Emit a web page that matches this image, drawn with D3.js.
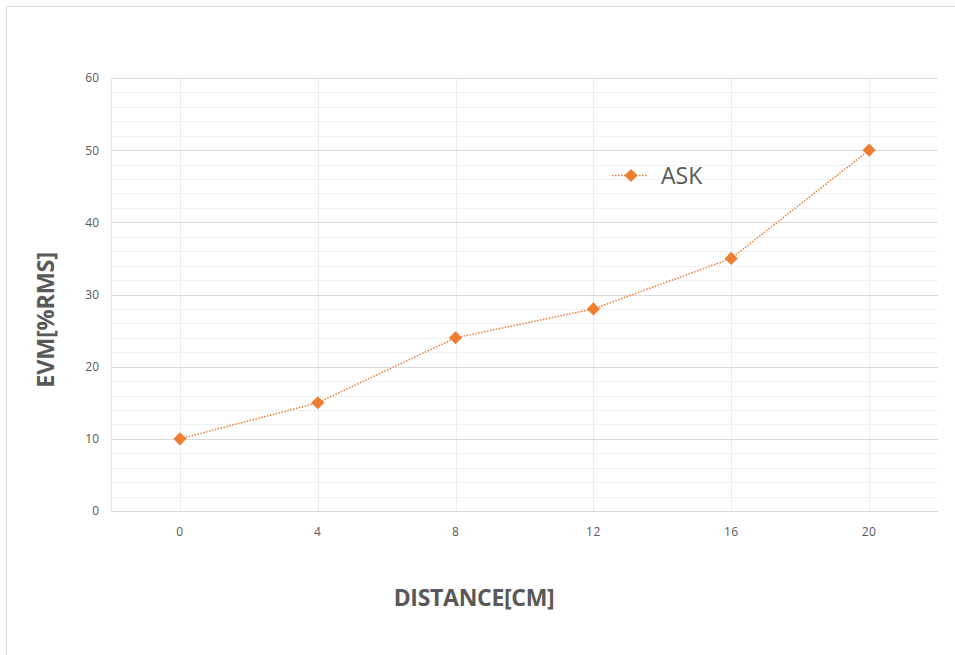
<!DOCTYPE html>
<html><head><meta charset="utf-8">
<script src="https://cdn.jsdelivr.net/npm/d3@7"></script>
<style>body{margin:0;background:#fff}svg{display:block}</style>
</head><body>
<svg id="c" width="955" height="655"></svg>
<script>
const categories = ["0","4","8","12","16","20"];
const askValues = [10, 15, 24, 28, 35, 50];
const yTicks = [0,10,20,30,40,50,60];
const seriesName = "ASK";
const xTitle = "DISTANCE[CM]";
const yTitle = "EVM[%RMS]";

const svg = d3.select("#c");
const W = 955, H = 655;
const m = {l:111, r:938, t:78, b:511};
const color = "#ED7D31";
const font = "'Open Sans', 'Liberation Sans', sans-serif";

// outer border (top/left)
svg.append("path").attr("d", `M6.5,${H} L6.5,6.5 L${W},6.5`).attr("fill","none").attr("stroke","#d9d9d9").attr("stroke-width",1);

const x = d3.scaleBand().domain(categories).range([m.l, m.r]);
const y = d3.scaleLinear().domain([0,60]).range([m.b, m.t]);

// minor gridlines
const minor = d3.range(0, 61, 2).filter(v => v % 10 !== 0);
svg.append("g").selectAll("line").data(minor).join("line")
  .attr("x1", m.l).attr("x2", m.r)
  .attr("y1", d => Math.round(y(d))+0.5).attr("y2", d => Math.round(y(d))+0.5)
  .attr("stroke","#f0f0f0").attr("stroke-width",1);
// vertical gridlines
svg.append("g").selectAll("line").data(categories).join("line")
  .attr("x1", d => Math.round(x(d)+x.bandwidth()/2)+0.5).attr("x2", d => Math.round(x(d)+x.bandwidth()/2)+0.5)
  .attr("y1", m.t).attr("y2", m.b)
  .attr("stroke","#ececec").attr("stroke-width",1);
// major gridlines
svg.append("g").selectAll("line").data(yTicks).join("line")
  .attr("x1", m.l).attr("x2", m.r)
  .attr("y1", d => Math.round(y(d))+0.5).attr("y2", d => Math.round(y(d))+0.5)
  .attr("stroke","#d9d9d9").attr("stroke-width",1);
// left plot edge
svg.append("line").attr("x1", m.l+0.5).attr("x2", m.l+0.5).attr("y1", m.t).attr("y2", m.b)
  .attr("stroke","#e6e6e6");

// y axis labels
const yAxis = d3.axisLeft(y).tickValues(yTicks).tickSize(0).tickPadding(12);
const gy = svg.append("g").attr("transform", `translate(${m.l},0)`).call(yAxis);
gy.select(".domain").remove();
gy.selectAll("text").attr("font-family", font).attr("font-size", 12).attr("fill","#595959");

// x axis labels
const xAxis = d3.axisBottom(x).tickSize(0).tickPadding(16);
const gx = svg.append("g").attr("transform", `translate(0,${m.b})`).call(xAxis);
gx.select(".domain").remove();
gx.selectAll("text").attr("font-family", font).attr("font-size", 12).attr("fill","#595959").attr("letter-spacing","0.5px");

// line
const cx = d => x(d) + x.bandwidth()/2;
const line = d3.line().x((d,i) => cx(categories[i])).y(d => y(d));
svg.append("path").datum(askValues).attr("d", line)
  .attr("fill","none").attr("stroke", color).attr("stroke-width",1.5).attr("stroke-dasharray","1.5,1.5");

// markers
const diamond = d3.symbol().type(d3.symbolDiamond2).size(110);
svg.append("g").selectAll("path").data(askValues).join("path")
  .attr("transform", (d,i) => `translate(${cx(categories[i])},${y(d)})`)
  .attr("d", diamond).attr("fill", color);

// legend
const lg = svg.append("g");
lg.append("line").attr("x1",612).attr("x2",648).attr("y1",175.5).attr("y2",175.5)
  .attr("stroke",color).attr("stroke-width",1.5).attr("stroke-dasharray","1.5,1.5");
lg.append("path").attr("transform","translate(631,175.5)").attr("d", diamond).attr("fill", color);
lg.append("text").attr("x",661).attr("y",184).text(seriesName)
  .attr("font-family", font).attr("font-size", 23).attr("fill","#595959");

// axis titles
svg.append("text").attr("x", 474).attr("y", 606).attr("text-anchor","middle")
  .attr("font-family", "'Open Sans', sans-serif").attr("font-weight","bold").attr("font-size",23)
  .attr("fill","#595959").attr("letter-spacing","-0.3px").text(xTitle);
svg.append("text").attr("transform","translate(54,320) rotate(-90)").attr("text-anchor","middle")
  .attr("font-family", "'Open Sans', sans-serif").attr("font-weight","bold").attr("font-size",23.5)
  .attr("fill","#595959").attr("letter-spacing","-0.3px").text(yTitle);
</script>
</body></html>
